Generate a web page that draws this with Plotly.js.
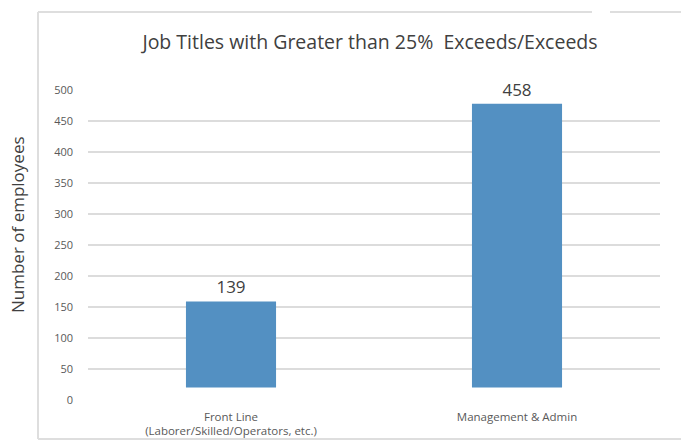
<!DOCTYPE html>
<html>
<head>
<meta charset="utf-8">
<script src="https://cdn.plot.ly/plotly-3.0.1.min.js"></script>
<style>
html,body{margin:0;padding:0;background:#fff;}
#chart{width:681px;height:441px;}
</style>
</head>
<body>
<div id="chart"></div>
<script>
const categories = ["Front Line<br>(Laborer/Skilled/Operators, etc.)", "Management & Admin"];
const employees = [139, 458];
const barBase = 20;
const tickVals = [0, 50, 100, 150, 200, 250, 300, 350, 400, 450, 500];

const font = "Open Sans, Noto Sans, sans-serif";
const grey = "#595959";

const trace = {
  type: "bar",
  x: categories,
  y: employees,
  base: barBase,
  text: employees.map(String),
  textposition: "outside",
  cliponaxis: false,
  textfont: {family: font, size: 17, color: "#404040"},
  marker: {color: "#5390c2", line: {width: 0}},
  width: 0.315,
  hoverinfo: "skip"
};

const px = (x) => (x - 88) / 572;
const py = (y) => (400 - y) / 310;

const layout = {
  width: 681,
  height: 441,
  margin: {l: 88, r: 21, t: 90, b: 41},
  paper_bgcolor: "#ffffff",
  plot_bgcolor: "#ffffff",
  showlegend: false,
  title: {
    text: "Job Titles with Greater than 25%  Exceeds/Exceeds",
    font: {family: font, size: 19.5, color: "#404040"},
    x: 370/681, xanchor: "center",
    y: 1 - 42/441, yanchor: "middle"
  },
  xaxis: {
    type: "category",
    showgrid: false,
    zeroline: false,
    showline: false,
    ticks: "",
    tickfont: {family: font, size: 11.5, color: grey},
    ticklabelstandoff: 8
  },
  yaxis: {
    range: [0, 500],
    tickvals: tickVals,
    ticktext: tickVals.map(String),
    showgrid: true,
    gridcolor: "#dcdcdc",
    gridwidth: 1.5,
    zeroline: false,
    showline: false,
    ticks: "",
    tickfont: {family: font, size: 11, color: grey},
    ticklabelstandoff: 14
  },
  annotations: [
    {text: "Number of employees", xref: "paper", yref: "paper",
     x: px(18), y: py(225), xanchor: "center", yanchor: "middle",
     textangle: -90, showarrow: false,
     font: {family: font, size: 17, color: "#404040"}}
  ],
  shapes: [
    {type: "line", xref: "paper", yref: "paper",
     x0: px(38), x1: px(38), y0: py(439), y1: py(12),
     line: {color: "#dedede", width: 2}},
    {type: "line", xref: "paper", yref: "paper",
     x0: px(38), x1: px(700), y0: py(12), y1: py(12),
     line: {color: "#dedede", width: 2}},
    {type: "line", xref: "paper", yref: "paper",
     x0: px(38), x1: px(700), y0: py(439), y1: py(439),
     line: {color: "#dedede", width: 2}},
    {type: "rect", xref: "paper", yref: "paper",
     x0: px(592), x1: px(610), y0: py(19), y1: py(0),
     fillcolor: "#ffffff", line: {width: 0}}
  ]
};

Plotly.newPlot("chart", [trace], layout, {displayModeBar: false, staticPlot: true});
</script>
</body>
</html>
